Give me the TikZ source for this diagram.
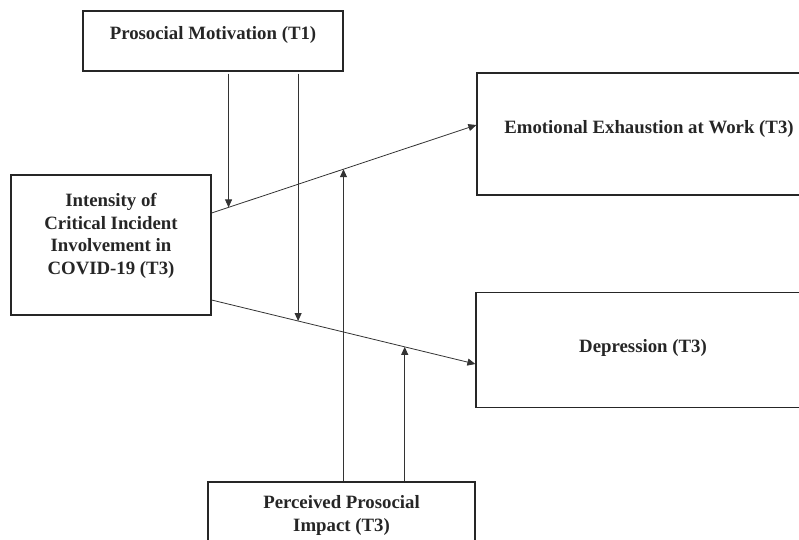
\documentclass[tikz,border=0pt]{standalone}
\usepackage{fontspec}
\setmainfont{Liberation Serif}
\usetikzlibrary{arrows.meta}

\tikzset{
  varbox/.style={draw=black!85, line width=1.2pt, inner sep=0pt,
    font=\fontsize{18.8}{22.6}\selectfont\bfseries, text=black!85},
  link/.style={draw=black!80, line width=0.8pt,
    -{Triangle[length=8pt,width=7pt]}}
}

\begin{document}
\begin{tikzpicture}[x=1pt, y=-1pt]

  % page size of the reference
  \useasboundingbox (0,0) rectangle (799,539);
  \clip (0,0) rectangle (799,539);

  % moderator, top
  \node[varbox, minimum width=260pt, minimum height=60pt] (pm) at (213,41)
    {\raisebox{6pt}[\height][\depth]{Prosocial Motivation (T1)}};
  % predictor
  \node[varbox, minimum width=200pt, minimum height=140pt] (int) at (111,245)
    {\raisebox{9pt}[\height][\depth]{\begin{tabular}{@{}c@{}}
      Intensity of\\ Critical Incident\\ Involvement in\\ COVID-19 (T3)
    \end{tabular}}};
  % outcomes (cut off at the right)
  \node[varbox, minimum width=344pt, minimum height=122pt] (ee) at (649,134)
    {\raisebox{5pt}[\height][\depth]{Emotional Exhaustion at Work (T3)}};
  \node[varbox, minimum width=334pt, minimum height=115pt] (dep) at (643,350)
    {\raisebox{2pt}[\height][\depth]{Depression (T3)}};
  % moderator, bottom (cut off)
  \node[varbox, minimum width=267pt, minimum height=90pt] (pp) at (341.5,527)
    {\raisebox{11.5pt}[\height][\depth]{\begin{tabular}{@{}c@{}}
      Perceived Prosocial\\ Impact (T3)
    \end{tabular}}};

  % main paths
  \draw[link] ([yshift=32pt]int.east) -- coordinate[pos=0.064] (m1)
    coordinate[pos=0.498] (m3) ([yshift=9pt]ee.west);
  \draw[link] ([yshift=-55pt]int.east) -- coordinate[pos=0.328] (m2)
    coordinate[pos=0.732] (m4) ([yshift=-14pt]dep.west);

  % moderation from above
  \draw[link, shorten <=2pt] (pm.south -| m1) -- (m1);
  \draw[link, shorten <=2pt] (pm.south -| m2) -- (m2);
  % moderation from below
  \draw[link] (pp.north -| m3) -- (m3);
  \draw[link] (pp.north -| m4) -- (m4);
\end{tikzpicture}
\end{document}
